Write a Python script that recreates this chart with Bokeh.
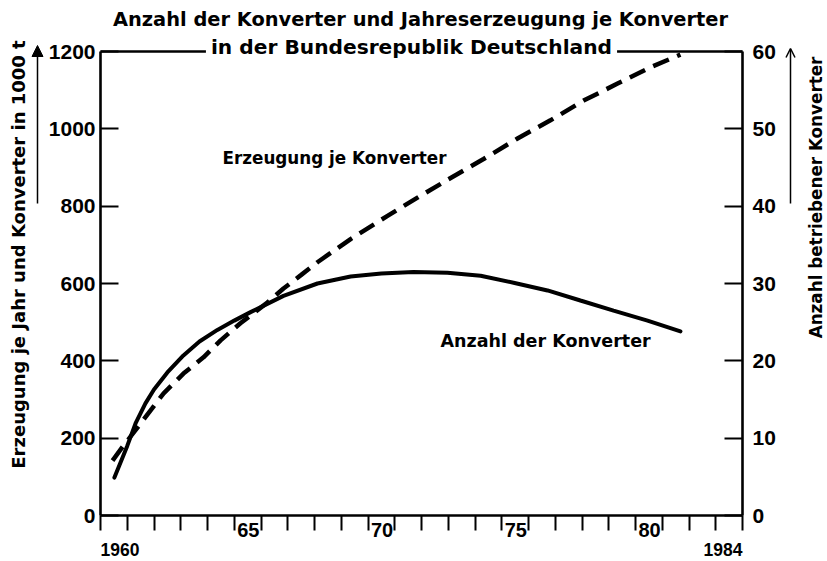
import math
from bokeh.plotting import figure
from bokeh.models import (Range1d, LinearAxis, FixedTicker, Label, Arrow,
                          NormalHead, OpenHead, ColumnDataSource, LabelSet)
from bokeh.core.properties import value
from bokeh.embed import file_html
from bokeh.resources import INLINE

# ---------------- data ----------------
count_years = [1960.52, 1961.0, 1961.31, 1961.68, 1962.0, 1962.5, 1963.1, 1963.7,
               1964.37, 1965.0, 1965.61, 1966.84, 1968.11, 1969.35, 1970.5, 1971.7,
               1972.97, 1974.21, 1975.44, 1976.71, 1977.94, 1979.18, 1980.45, 1981.68]
count_values = [4.9, 9.0, 11.9, 14.5, 16.3, 18.5, 20.7, 22.5, 24.0, 25.2, 26.3, 28.4,
                30.0, 30.9, 31.3, 31.5, 31.4, 31.0, 30.1, 29.1, 27.8, 26.5, 25.2, 23.8]

prod_years = [1960.45, 1960.81, 1961.93, 1962.36, 1963.1, 1963.85, 1964.49, 1965.23,
              1966.24, 1966.84, 1967.48, 1968.11, 1969.35, 1970.73, 1971.85, 1972.97,
              1974.32, 1975.59, 1976.82, 1978.06, 1979.33, 1980.56, 1981.68]
prod_values = [142, 176, 277, 316, 367, 409, 453, 497, 551, 587, 621, 655, 715, 775,
               822, 868, 922, 975, 1022, 1073, 1117, 1159, 1192]

year_ticks = list(range(1960, 1985))
left_ticks = [0, 200, 400, 600, 800, 1000, 1200]
right_ticks = [0, 10, 20, 30, 40, 50, 60]
mid_year_labels = ["65", "70", "75", "80"]
mid_year_pos = [1965, 1970, 1975, 1980]
end_year_labels = ["1960", "1984"]

title1 = "Anzahl der Konverter und Jahreserzeugung je Konverter"
title2 = "in der Bundesrepublik Deutschland"
left_title = "Erzeugung je Jahr und Konverter in 1000 t"
right_title = "Anzahl betriebener Konverter"
label_prod = "Erzeugung je Konverter"
label_count = "Anzahl der Konverter"

# ---------------- geometry ----------------
W, H = 827, 561
FL, FR, FT, FB = 100, 742, 51, 515   # axis box edges in page pixels
X0, X1, Y0, Y1 = 1960, 1984, 0, 1200
C1 = 60

xs = (X1 - X0) / (FR - FL)
ys = (Y1 - Y0) / (FB - FT)

def dx(px):
    return X0 + (px - FL) * xs

def dy(py):
    return Y0 + (FB - py) * ys

xr = Range1d(dx(0), dx(W))
yr = Range1d(dy(H), dy(0))
cr = Range1d(dy(H) * C1 / Y1, dy(0) * C1 / Y1)

TXT = "DejaVu Sans"
NUM = "Liberation Sans"

p = figure(width=W, height=H, output_backend="svg", toolbar_location=None,
           x_range=xr, y_range=yr, min_border=0,
           x_axis_location=None, y_axis_location=None)
p.extra_y_ranges = {"count": cr}
p.xgrid.visible = False
p.ygrid.visible = False
p.outline_line_color = None
p.background_fill_color = "white"
p.border_fill_color = "white"

LW = 2.6

ax_l = LinearAxis(ticker=FixedTicker(ticks=left_ticks), fixed_location=X0,
                  bounds=(Y0, Y1))
ax_r = LinearAxis(y_range_name="count", ticker=FixedTicker(ticks=right_ticks),
                  fixed_location=X1, bounds=(0, C1))
for ax, st in ((ax_l, 5), (ax_r, 10)):
    ax.axis_line_width = LW
    ax.major_tick_line_width = 2
    ax.major_tick_in = 18
    ax.major_tick_out = 0
    ax.minor_tick_line_color = None
    ax.major_label_standoff = st
    ax.major_label_text_font = NUM
    ax.major_label_text_font_style = "bold"
    ax.major_label_text_font_size = "21px"
    ax.major_label_text_color = "black"
p.add_layout(ax_l, "left")
p.add_layout(ax_r, "right")

ax_b = LinearAxis(ticker=FixedTicker(ticks=year_ticks), fixed_location=Y0,
                  bounds=(X0, X1))
ax_b.axis_line_width = LW
ax_b.major_tick_line_width = 2
ax_b.major_tick_in = 0
ax_b.major_tick_out = 15
ax_b.minor_tick_line_color = None
ax_b.major_label_text_font_size = "1px"
ax_b.major_label_text_color = None
p.add_layout(ax_b, "below")

ax_t = LinearAxis(ticker=FixedTicker(ticks=[]), fixed_location=Y1,
                  bounds=(X0, X1))
ax_t.axis_line_width = LW
ax_t.major_tick_line_color = None
ax_t.minor_tick_line_color = None
ax_t.major_label_text_font_size = "1px"
ax_t.major_label_text_color = None
p.add_layout(ax_t, "above")

# curves
p.line(count_years, count_values, y_range_name="count", line_color="black",
       line_width=4, line_cap="round")
p.line(prod_years, prod_values, line_color="black", line_width=4.5,
       line_dash="17 9", line_cap="butt")

# titles
p.add_layout(Label(x=dx(420), y=dy(19), text=title1, text_align="center",
                   text_baseline="middle", text_font=TXT, text_font_style="bold",
                   text_font_size="19.4px", text_color="black"))
p.add_layout(Label(x=dx(411), y=dy(46), text=title2, text_align="center",
                   text_baseline="middle", text_font=TXT, text_font_style="bold",
                   text_font_size="20.2px", text_color="black",
                   background_fill_color="white", padding=5))

# axis titles
p.add_layout(Label(x=dx(18), y=dy(254), text=left_title, angle=math.pi / 2,
                   text_align="center", text_baseline="middle", text_font=TXT,
                   text_font_style="bold", text_font_size="18px", text_color="black"))
p.add_layout(Label(x=dx(815), y=dy(197), text=right_title, angle=math.pi / 2,
                   text_align="center", text_baseline="middle", text_font=TXT,
                   text_font_style="bold", text_font_size="16.8px", text_color="black"))

# arrows
p.add_layout(Arrow(x_start=dx(37), y_start=dy(203), x_end=dx(37), y_end=dy(45),
                   line_width=1.5, line_color="black",
                   end=NormalHead(size=11, fill_color="black", line_color="black")))
p.add_layout(Arrow(x_start=dx(790), y_start=dy(203), x_end=dx(790), y_end=dy(48),
                   line_width=1.5, line_color="black",
                   end=OpenHead(size=9, line_width=1.5, line_color="black")))

# curve labels
p.add_layout(Label(x=dx(222), y=dy(157), text=label_prod, text_align="left",
                   text_baseline="middle", text_font=TXT, text_font_style="bold",
                   text_font_size="16.8px", text_color="black"))
p.add_layout(Label(x=dx(440), y=dy(340), text=label_count, text_align="left",
                   text_baseline="middle", text_font=TXT, text_font_style="bold",
                   text_font_size="17.5px", text_color="black"))

# year labels
mid_src = ColumnDataSource(dict(x=mid_year_pos, y=[dy(529)] * len(mid_year_pos),
                                t=mid_year_labels))
p.add_layout(LabelSet(x="x", y="y", text="t", source=mid_src, x_offset=3,
                      text_align="left", text_baseline="middle",
                      text_font=value(NUM), text_font_style="bold",
                      text_font_size=value("20px"), text_color="black"))
p.add_layout(Label(x=X0, y=dy(549), text=end_year_labels[0], text_align="left",
                   text_baseline="middle", text_font=NUM, text_font_style="bold",
                   text_font_size="17.5px", text_color="black"))
p.add_layout(Label(x=X1, y=dy(549), text=end_year_labels[1], text_align="right",
                   text_baseline="middle", text_font=NUM, text_font_style="bold",
                   text_font_size="17.5px", text_color="black"))

open("out.html", "w").write(file_html(p, INLINE))
